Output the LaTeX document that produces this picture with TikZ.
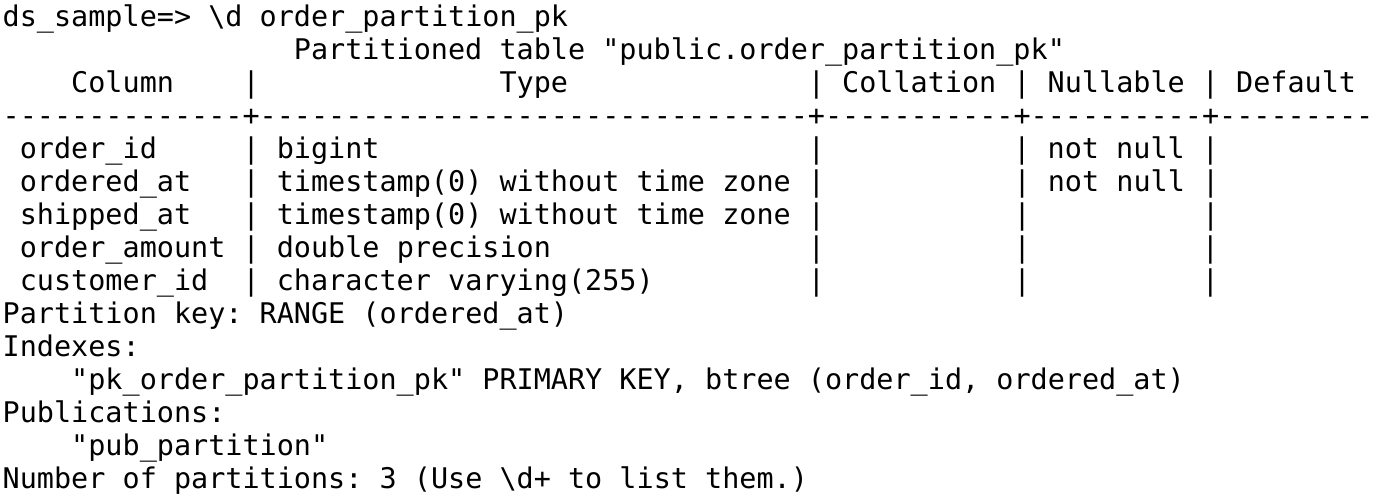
\documentclass[tikz,border=0pt]{standalone}
\usepackage{fontspec}
\usepackage{xcolor}
\usepackage{tikz}
\newfontfamily\termfont{DejaVu Sans Mono}
\newlength{\cw}
\setlength{\cw}{8.565pt}
\newcommand{\blanks}[1]{\hspace*{#1\cw}}
\tikzset{termline/.style={font=\termfont\fontsize{14.23pt}{16.5pt}\selectfont\frenchspacing,
  anchor=base west, inner sep=0pt, text=black}}

\begin{document}
\begin{tikzpicture}
\fill[white] (0,0) rectangle (700pt,-250.5pt);
\useasboundingbox (0,0) rectangle (700pt,-250.5pt);
% prompt and title
\node[termline] (prompt) at (1.15pt,-13.5pt) {ds\_sample=> \textbackslash d order\_partition\_pk};
\node[termline] (title) at (1.15pt,-29.99pt) {\blanks{17}Partitioned table "public.order\_partition\_pk"};
% table head
\node[termline] (header) at (1.15pt,-46.48pt) {\blanks{4}Column\blanks{4}|\blanks{14}Type\blanks{14}| Collation | Nullable | Default};
\node[termline] (rule) at (1.15pt,-62.97pt) {--------------+--------------------------------+-----------+----------+---------};
% rows
\node[termline] (row1) at (1.15pt,-79.46pt) {\blanks{1}order\_id\blanks{5}| bigint\blanks{25}|\blanks{11}| not null |};
\node[termline] (row2) at (1.15pt,-95.95pt) {\blanks{1}ordered\_at\blanks{3}| timestamp(0) without time zone |\blanks{11}| not null |};
\node[termline] (row3) at (1.15pt,-112.44pt) {\blanks{1}shipped\_at\blanks{3}| timestamp(0) without time zone |\blanks{11}|\blanks{10}|};
\node[termline] (row4) at (1.15pt,-128.93pt) {\blanks{1}order\_amount | double precision\blanks{15}|\blanks{11}|\blanks{10}|};
\node[termline] (row5) at (1.15pt,-145.42pt) {\blanks{1}customer\_id\blanks{2}| character varying(255)\blanks{9}|\blanks{11}|\blanks{10}|};
% footer
\node[termline] (pkey) at (1.15pt,-161.91pt) {Partition key: RANGE (ordered\_at)};
\node[termline] (idxhead) at (1.15pt,-178.40pt) {Indexes:};
\node[termline] (idx) at (1.15pt,-194.89pt) {\blanks{4}"pk\_order\_partition\_pk" PRIMARY KEY, btree (order\_id, ordered\_at)};
\node[termline] (pubhead) at (1.15pt,-211.38pt) {Publications:};
\node[termline] (pub) at (1.15pt,-227.87pt) {\blanks{4}"pub\_partition"};
\node[termline] (nparts) at (1.15pt,-244.36pt) {Number of partitions: 3 (Use \textbackslash d+ to list them.)};
\end{tikzpicture}
\end{document}
